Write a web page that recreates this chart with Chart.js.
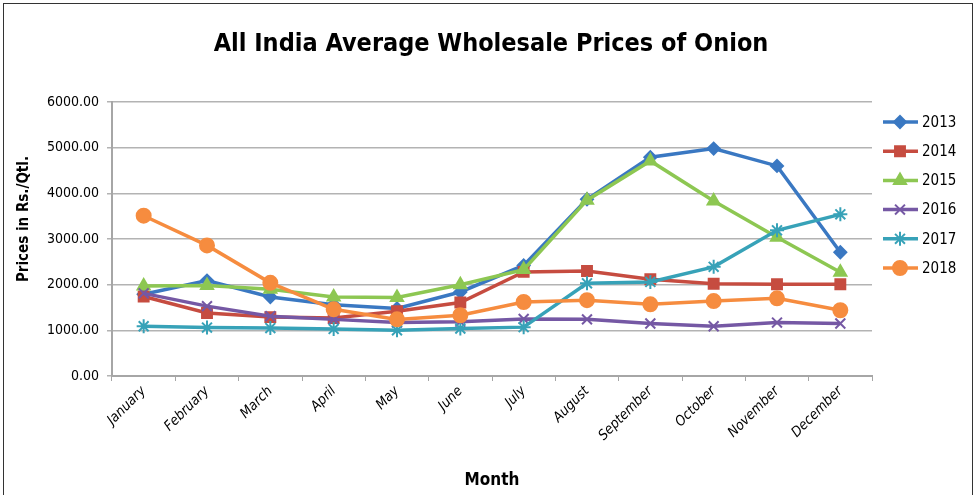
<!DOCTYPE html>
<html lang="en">
<head>
    <meta charset="UTF-8">
    <title>All India Average Wholesale Prices of Onion</title>
    <script src="https://cdn.jsdelivr.net/npm/chart.js"></script>
    <style>
        html, body {
            margin: 0;
            padding: 0;
            background: white;
        }
        #onionChart {
            display: block;
        }
    </style>
</head>
<body>
    <canvas id="onionChart" width="978" height="495"></canvas>

    <script>
        const months = ['January', 'February', 'March', 'April', 'May', 'June',
                        'July', 'August', 'September', 'October', 'November', 'December'];

        const years = ['2013', '2014', '2015', '2016', '2017', '2018'];

        const prices2013 = [1790, 2090, 1730, 1560, 1480, 1840, 2420, 3870, 4790, 4980, 4600, 2710];
        const prices2014 = [1740, 1380, 1290, 1270, 1420, 1610, 2280, 2300, 2120, 2020, 2010, 2010];
        const prices2015 = [1970, 1980, 1900, 1730, 1720, 2000, 2330, 3850, 4710, 3830, 3040, 2270];
        const prices2016 = [1810, 1530, 1310, 1240, 1170, 1190, 1250, 1240, 1150, 1090, 1170, 1150];
        const prices2017 = [1090, 1060, 1050, 1030, 1000, 1040, 1070, 2030, 2060, 2390, 3190, 3540];
        const prices2018 = [3510, 2860, 2040, 1460, 1240, 1330, 1620, 1660, 1570, 1640, 1700, 1440];

        const allPrices = [prices2013, prices2014, prices2015, prices2016, prices2017, prices2018];

        const colors = ['#3a78c2', '#c64c40', '#8dc752', '#7558a4', '#37a2b8', '#f68c3f'];
        const markers = ['rectRot', 'rect', 'triangle', 'crossRot', 'star', 'circle'];
        const markerSizes = [6, 7, 7, 7, 7, 7];

        const uiFont = "'Liberation Sans Narrow', 'DejaVu Sans Condensed', sans-serif";

        // рамка, заголовок и подпись оси Y
        const frame = {
            id: 'frame',
            beforeDraw(chart) {
                const c = chart.ctx;
                c.save();
                c.fillStyle = 'white';
                c.fillRect(0, 0, chart.width, chart.height);
                c.strokeStyle = '#333';
                c.lineWidth = 1;
                c.strokeRect(3.5, 3.5, 969, 500);

                c.fillStyle = '#000';
                c.textAlign = 'center';
                c.textBaseline = 'middle';
                c.font = "bold 25px " + uiFont;
                c.fillText('All India Average Wholesale Prices of Onion', 491, 44);

                c.translate(24, 219);
                c.rotate(-Math.PI / 2);
                c.font = "bold 15px " + uiFont;
                c.fillText('Prices in Rs./Qtl.', 0, 0);
                c.restore();
            }
        };

        // легенда справа: линия + маркер
        const sideLegend = {
            id: 'sideLegend',
            afterDraw(chart) {
                const c = chart.ctx;
                c.save();
                chart.data.datasets.forEach((ds, i) => {
                    const y = 122 + i * 29.2;
                    c.strokeStyle = ds.borderColor;
                    c.lineWidth = 3.5;
                    c.beginPath();
                    c.moveTo(883, y);
                    c.lineTo(918, y);
                    c.stroke();
                    c.fillStyle = ds.backgroundColor;
                    c.strokeStyle = ds.borderColor;
                    c.lineWidth = 2;
                    Chart.helpers.drawPoint(c, {
                        pointStyle: ds.pointStyle,
                        radius: ds.pointRadius,
                        rotation: 0,
                        borderWidth: 2
                    }, 900, y);
                    c.fillStyle = '#000';
                    c.font = "15px " + uiFont;
                    c.textBaseline = 'middle';
                    c.fillText(ds.label, 922, y + 1);
                });
                c.restore();
            }
        };

        const datasets = years.map((year, i) => ({
            label: year,
            data: allPrices[i],
            borderColor: colors[i],
            backgroundColor: colors[i],
            borderWidth: 3.5,
            pointStyle: markers[i],
            pointRadius: markerSizes[i],
            pointBorderWidth: 2,
            pointBackgroundColor: colors[i],
            pointBorderColor: colors[i],
            tension: 0,
            order: years.length - i
        }));

        new Chart(document.getElementById('onionChart'), {
            type: 'line',
            data: {
                labels: months,
                datasets: datasets
            },
            options: {
                responsive: false,
                animation: false,
                layout: {
                    padding: { left: 8, right: 106, top: 102, bottom: 0 }
                },
                plugins: {
                    legend: { display: false },
                    tooltip: { enabled: false },
                    title: { display: false }
                },
                scales: {
                    x: {
                        offset: true,
                        afterFit(scale) { scale.height = 119; },
                        grid: {
                            offset: true,
                            drawOnChartArea: false,
                            drawTicks: true,
                            tickLength: 5,
                            color: '#a6a6a6'
                        },
                        border: { color: '#a6a6a6', width: 2 },
                        ticks: {
                            minRotation: 45,
                            maxRotation: 45,
                            autoSkip: false,
                            padding: 2,
                            color: '#000',
                            font: { family: uiFont, size: 14, style: 'italic' }
                        },
                        title: {
                            display: true,
                            text: 'Month',
                            color: '#000',
                            font: { family: uiFont, size: 17, weight: 'bold' },
                            padding: { top: 0, bottom: 4 }
                        }
                    },
                    y: {
                        min: 0,
                        max: 6000,
                        afterFit(scale) { scale.width = 104; },
                        grid: {
                            color: '#b3b3b3',
                            lineWidth: 1.5,
                            tickLength: 5
                        },
                        border: { color: '#a6a6a6', width: 2 },
                        ticks: {
                            stepSize: 1000,
                            padding: 8,
                            color: '#000',
                            font: { family: uiFont, size: 14 },
                            callback: v => v.toFixed(2)
                        }
                    }
                }
            },
            plugins: [frame, sideLegend]
        });
    </script>
</body>
</html>
